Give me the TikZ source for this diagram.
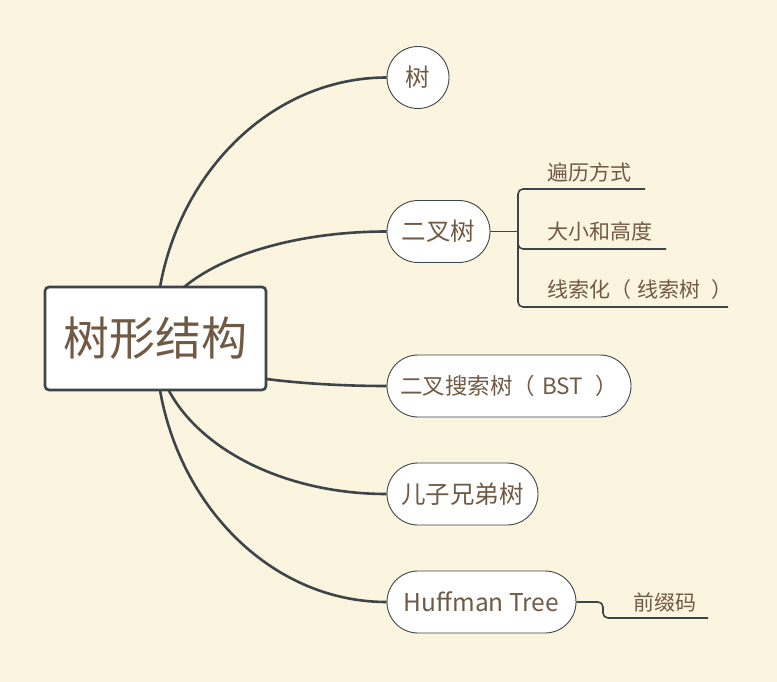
\documentclass[tikz,border=0pt]{standalone}
\usepackage{fontspec}
\setmainfont{Noto Sans CJK SC}
\usetikzlibrary{shapes.misc,calc,backgrounds}
\definecolor{paper}{RGB}{251,244,222}
\definecolor{ink}{RGB}{62,69,74}
\definecolor{label}{RGB}{112,90,68}

\begin{document}
\begin{tikzpicture}[
  x=1pt, y=-1pt,
  root/.style={rectangle, draw=ink, line width=2.6pt, rounded corners=4pt,
               fill=white, minimum width=221pt, minimum height=103pt,
               text=label, font=\fontsize{46}{50}\selectfont, inner sep=0pt},
  topic/.style={rounded rectangle, draw=ink, line width=0.9pt, fill=white,
                minimum height=62pt, text=label,
                font=\fontsize{24.5}{28}\selectfont, inner sep=0pt},
  subtopic/.style={anchor=west, text=label,
                   font=\fontsize{21}{24}\selectfont, inner sep=0pt},
  branch/.style={draw=ink, line width=2.6pt},
  twig/.style={draw=ink, line width=1.6pt, rounded corners=5pt}
]
  \useasboundingbox (0,0) rectangle (777,682);

  % central topic
  \node[root] (root) at (155.5,338.5) {树形结构};

  % main topics
  \node[topic, circle, minimum size=62pt] (tree) at (418,77.5) {树};
  \node[topic, minimum width=103pt] (bt)   at (438.5,231.5) {二叉树};
  \node[topic, minimum width=244pt, font=\fontsize{22.5}{26}\selectfont] (bst) at (509,386)
    {二叉搜索树（\hspace{0.3em}BST\hspace{0.55em}）\hspace{-0.55em}};
  \node[topic, minimum width=151pt] (cs)   at (462.5,494)   {儿子兄弟树};
  \node[topic, minimum width=189pt] (huff) at (481.5,602)   {Huffman Tree};

  % subtopics
  \node[subtopic] (trav)   at (547,172.5) {遍历方式};
  \node[subtopic] (size)   at (547,231.5) {大小和高度};
  \node[subtopic] (thread) at (547,289.5) {线索化（\hspace{0.3em}线索树\hspace{0.5em}）};
  \node[subtopic] (prefix) at (633,602)   {前缀码};

  \coordinate (btfork)     at (518,231.5);
  \coordinate (travend)    at (645,189);
  \coordinate (sizeend)    at (666,249);
  \coordinate (threadend)  at (728,307);
  \coordinate (hufffork)   at (603,602);
  \coordinate (prefixend)  at (708,618);

  % branches
  \begin{scope}[on background layer]
    \fill[paper] (0,0) rectangle (777,682);
    \foreach \target in {tree,bt,bst,cs,huff}
      \draw[branch] (root.center)
        .. controls ($(root.center)!0.55!(root.center|-\target.west)$)
        and ($(\target.west)!0.55!(root.center|-\target.west)$) .. (\target.west);
  \end{scope}

  \draw[draw=ink, line width=1.6pt] (bt.east) -- (btfork);
  \draw[twig] (btfork) |- (travend);
  \draw[twig] (btfork) |- (sizeend);
  \draw[twig] (btfork) |- (threadend);
  \draw[twig] (huff.east) -- (hufffork) |- (prefixend);
\end{tikzpicture}
\end{document}
